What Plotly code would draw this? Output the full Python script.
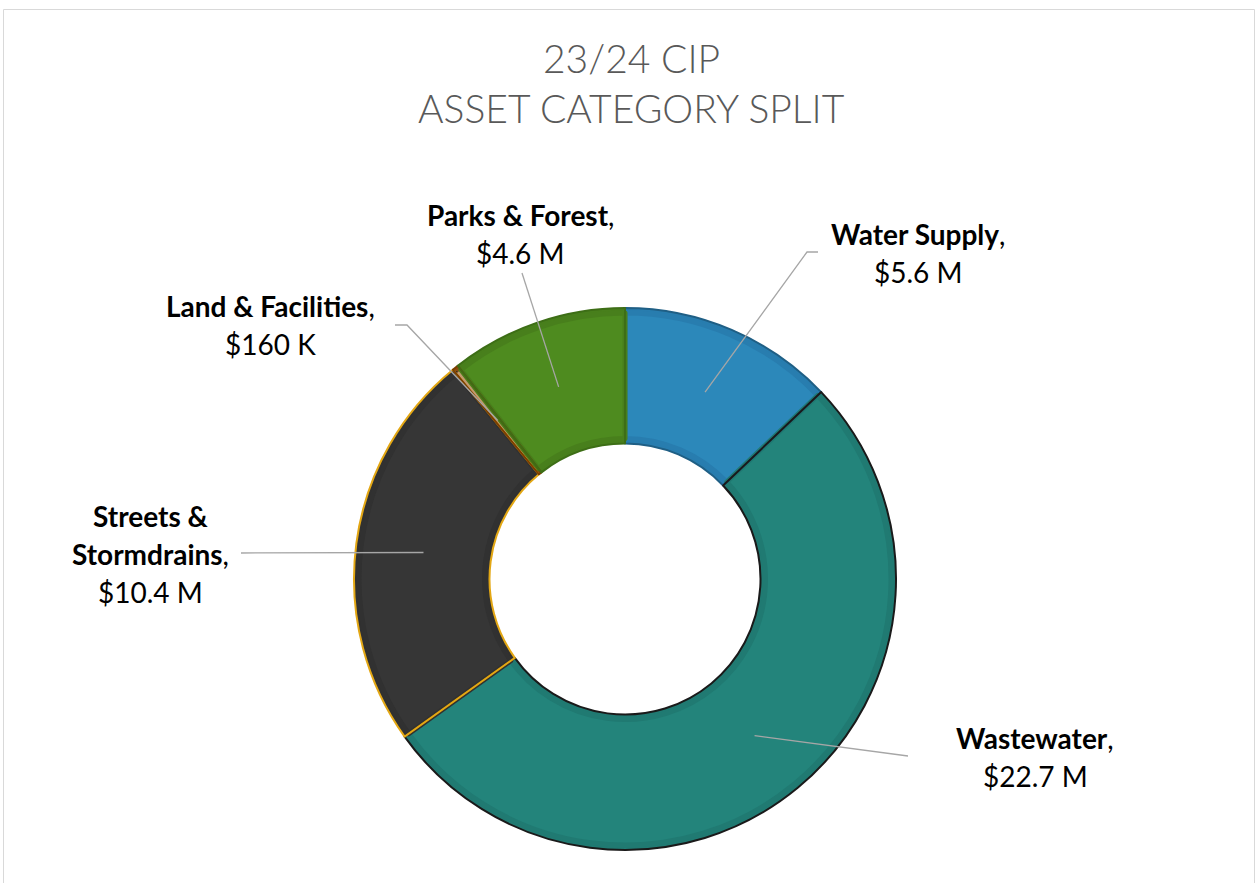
import math
import plotly.graph_objects as go

W, H = 1259, 883

# ---- data ----
categories = ["Water Supply", "Wastewater", "Streets &<br>Stormdrains", "Land & Facilities", "Parks & Forest"]
values_musd = [5.6, 22.7, 10.4, 0.16, 4.6]
inner_colors = ["#2C88BA", "#23847B", "#363636", "#C39A6E", "#4E8B1F"]
band_colors = ["#287DAF", "#207A72", "#313131", "#8A4B12", "#487F1C"]
line_colors = ["#1F5F85", "#1A1A1A", "#E3A714", "#7B3F00", "#3D6E16"]

title_lines = ["23/24 CIP", "ASSET CATEGORY SPLIT"]

def fmt(v):
    if v < 1:
        return f"${v*1000:.0f} K"
    return f"${v:.1f} M"

# ---- layout geometry (pixels) ----
CX, CY, R = 625, 579, 271
HOLE = 0.5
BAND = 5

def px(x):
    return x / W

def py(y):
    return 1 - y / H

def dom(r):
    return dict(x=[px(CX - r), px(CX + r)], y=[py(CY + r), py(CY - r)])

names = [c.replace("<br>", " ") for c in categories]
common = dict(labels=names, values=values_musd, sort=False, direction="clockwise",
              rotation=0, textinfo="none", showlegend=False)

fig = go.Figure()
# base ring (bevel band colour)
fig.add_trace(go.Pie(**common, hole=HOLE, domain=dom(R), hoverinfo="skip",
                     marker=dict(colors=band_colors, line=dict(width=0))))
# inner lighter face
r_in = R * HOLE
fig.add_trace(go.Pie(**common, hole=(r_in + BAND) / (R - BAND), domain=dom(R - BAND),
                     hoverinfo="skip",
                     marker=dict(colors=inner_colors,
                                 line=dict(color=band_colors,
                                           width=[BAND if v > 1 else 0 for v in values_musd]))))
# outlines
fig.add_trace(go.Pie(**common, hole=HOLE, domain=dom(R), hoverinfo="label+value",
                     marker=dict(colors=["rgba(0,0,0,0)"] * len(values_musd),
                                 line=dict(color=line_colors, width=2))))

# leader line start points: middle of ring at each slice's mid angle
total = sum(values_musd)
cum = 0
starts = []
rmid = R * (1 + HOLE) / 2
for v in values_musd:
    mid = (cum + v / 2) / total * 2 * math.pi
    cum += v
    starts.append((CX + rmid * math.sin(mid), CY - rmid * math.cos(mid)))

# leader path continuations (label anchor positions, pixels)
leader_tails = [
    [(807, 252), (818, 252)],
    [(908, 756)],
    [(241, 553)],
    [(407, 325), (395, 325)],
    [(522, 273)],
]
shapes = []
for (sx, sy), tail in zip(starts, leader_tails):
    pts = [(sx, sy)] + tail
    path = "M " + " L ".join(f"{px(x)},{py(y)}" for x, y in pts)
    shapes.append(dict(type="path", xref="paper", yref="paper", path=path,
                       line=dict(color="#A6A6A6", width=1.3)))

# outer chart border
shapes.append(dict(type="rect", xref="paper", yref="paper",
                   x0=px(3.5), x1=px(1254.5), y0=py(900), y1=py(9.5),
                   line=dict(color="#D9D9D9", width=1)))

annotations = []
FONT = "Lato, 'Open Sans', sans-serif"
# title
for i, t in enumerate(title_lines):
    annotations.append(dict(text=t, x=px(631), y=py(58 + 50 * i), xref="paper", yref="paper",
                            showarrow=False, xanchor="center", yanchor="middle",
                            font=dict(family=FONT, size=39, color="#595959", weight=300)))

# data labels (center x, first line y)
label_pos = [(918, 234), (1035, 738), (150, 516), (270, 306), (520, 215)]
LS = 38
for cat, v, (lx, ly) in zip(categories, values_musd, label_pos):
    parts = cat.split("<br>")
    lines = [f"<b>{p}</b>" for p in parts]
    lines[-1] = lines[-1] + ","
    lines.append(fmt(v))
    for j, ln in enumerate(lines):
        annotations.append(dict(text=ln, x=px(lx), y=py(ly + LS * j), xref="paper", yref="paper",
                                showarrow=False, xanchor="center", yanchor="middle",
                                font=dict(family=FONT, size=28, color="#000000")))

fig.update_layout(
    width=W, height=H,
    margin=dict(l=0, r=0, t=0, b=0),
    paper_bgcolor="white",
    plot_bgcolor="white",
    shapes=shapes,
    annotations=annotations,
)

fig.write_html("out.html", config={"displayModeBar": False},
               post_script="document.body.style.margin='0px';")
